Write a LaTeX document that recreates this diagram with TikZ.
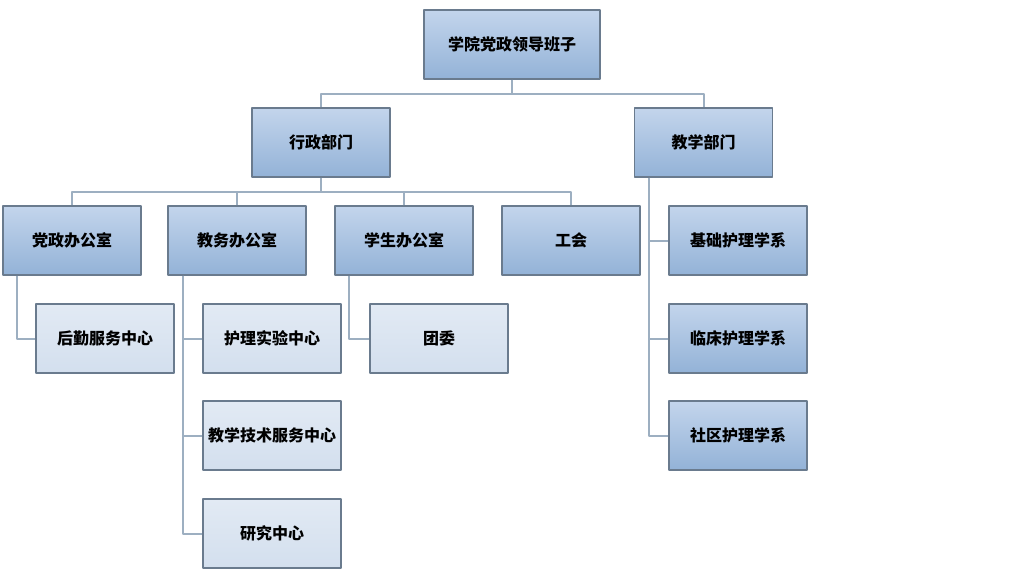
\documentclass[tikz,border=0pt]{standalone}
\usepackage{fontspec}
\newfontfamily\cjk{Noto Sans CJK SC}
\definecolor{boxline}{HTML}{6A7B8E}
\definecolor{darktop}{HTML}{C3D5EC}
\definecolor{darkbot}{HTML}{93B2D7}
\definecolor{leaftop}{HTML}{E2EAF4}
\definecolor{leafbot}{HTML}{D3DFEE}
\definecolor{linkc}{HTML}{9DAFC1}
\begin{document}
\begin{tikzpicture}[x=1pt, y=-1pt, font=\cjk\bfseries\fontsize{16}{19}\selectfont, line join=round,
	unit/.style={draw=boxline, line width=1.2pt, top color=darktop, bottom color=darkbot, minimum width=138pt, minimum height=69pt, inner sep=0pt},
	leaf/.style={unit, top color=leaftop, bottom color=leafbot},
	link/.style={draw=linkc, line width=2pt}]
	\useasboundingbox (0,0) rectangle (1032,585);
	% units
	\node[unit, minimum width=176pt] (lead) at (512,44.5) {学院党政领导班子};
	\node[unit] (admin) at (321,142.5) {行政部门};
	\node[unit] (teach) at (703.5,142.5) {教学部门};
	\node[unit] (party) at (72,240.5) {党政办公室};
	\node[unit] (edu) at (237,240.5) {教务办公室};
	\node[unit] (stu) at (404,240.5) {学生办公室};
	\node[unit] (union) at (571,240.5) {工会};
	\node[unit] (basic) at (738,240.5) {基础护理学系};
	\node[unit] (clinic) at (738,338.5) {临床护理学系};
	\node[unit] (comm) at (738,435.5) {社区护理学系};
	% leaves
	\node[leaf] (logi) at (105,338.5) {后勤服务中心};
	\node[leaf] (lab) at (272,338.5) {护理实验中心};
	\node[leaf] (tech) at (272,435.5) {教学技术服务中心};
	\node[leaf] (res) at (272,533.5) {研究中心};
	\node[leaf] (league) at (439,338.5) {团委};
	% links
	\draw[link] (lead.south) -- ++(0,14) coordinate (j0);
	\draw[link] (admin.north) |- (j0) -| (teach.north);
	\draw[link] (admin.south) -- ++(0,14) coordinate (j1);
	\foreach \n in {party,edu,stu,union}
	\draw[link] (\n.north) |- (j1);
	\draw[link] ([xshift=15pt]party.south west) |- (logi.west);
	\foreach \n in {lab,tech,res}
	\draw[link] ([xshift=16pt]edu.south west) |- (\n.west);
	\draw[link] ([xshift=15pt]stu.south west) |- (league.west);
	\foreach \n in {basic,clinic,comm}
	\draw[link] ([xshift=15pt]teach.south west) |- (\n.west);
\end{tikzpicture}
\end{document}
